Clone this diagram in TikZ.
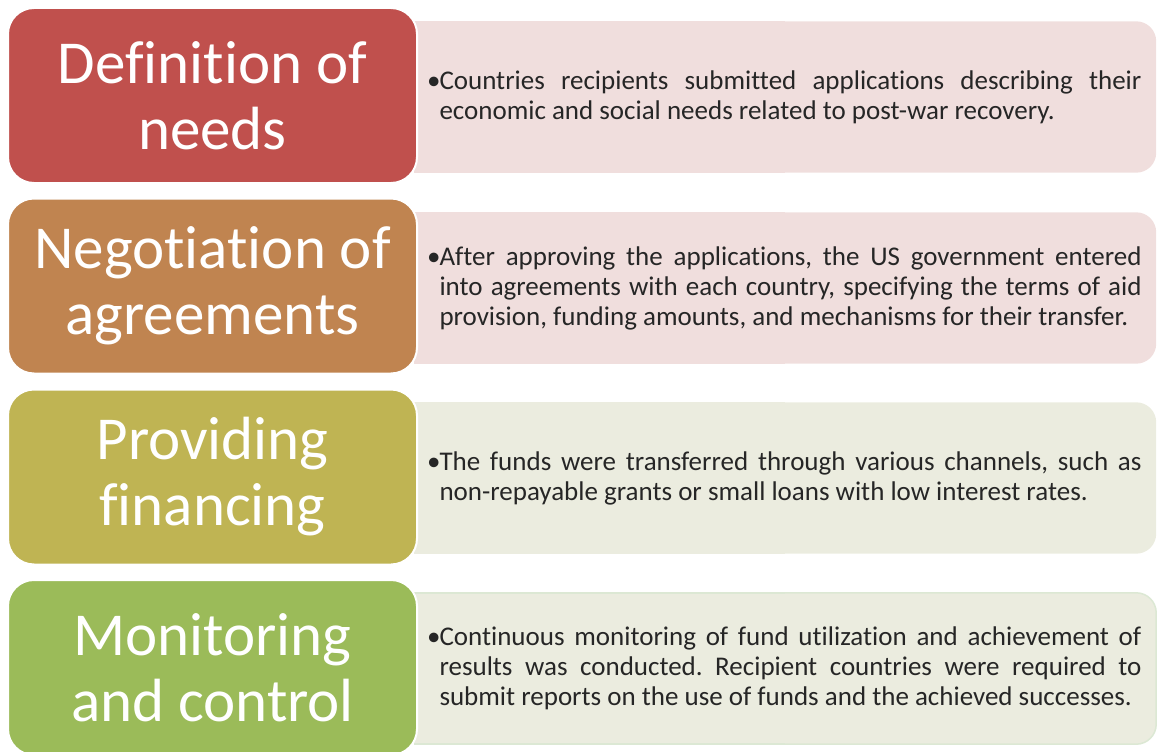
\documentclass[tikz,border=0pt]{standalone}
\usepackage{fontspec}
\setmainfont{Carlito}[RawFeature={-liga;-clig;-calt;-dlig}]
\usetikzlibrary{backgrounds}

\definecolor{needsred}{HTML}{C0504D}
\definecolor{talksbrown}{HTML}{C08450}
\definecolor{fundolive}{HTML}{BFB453}
\definecolor{controlgreen}{HTML}{9BBB59}
\definecolor{pinkpanel}{HTML}{F0DEDD}
\definecolor{creampanel}{HTML}{EBECDF}
\definecolor{panelline}{HTML}{DCE8D4}
\definecolor{infotext}{HTML}{262626}

\frenchspacing
\newcommand{\bulletitem}[1]{\noindent\hangindent=11pt\hangafter=1\makebox[11pt][l]{\hspace{-1.5pt}\textbullet}#1\par}

\begin{document}
\begin{tikzpicture}[x=1pt,y=-1pt,
	stage/.style={rounded corners=26pt, draw=white, line width=2pt, minimum width=409pt, minimum height=175pt,
		text=white, align=center, font=\fontsize{61}{66}\selectfont},
	info/.style={minimum width=742pt, minimum height=151pt, text width=713pt, inner sep=0pt,
		align=justify, text=infotext, font=\fontsize{27}{30}\selectfont},
	panel/.style={fill=#1, rounded corners=20pt}
]

	\useasboundingbox (0,0) rectangle (1157,752);

	% text panels on the right
	\node[info] (needs text) at (785,97) {\bulletitem{Countries recipients submitted applications describing their\linebreak economic and social needs related to post-war recovery.}};
	\node[info] (talks text) at (785,288) {\bulletitem{After approving the applications, the US government entered\linebreak into agreements with each country, specifying the terms of aid\linebreak provision, funding amounts, and mechanisms for their transfer.}};
	\node[info] (fund text) at (785,478) {\bulletitem{The funds were transferred through various channels, such as\linebreak non-repayable grants or small loans with low interest rates.}};
	\node[info] (control text) at (785,668.5) {\bulletitem{Continuous monitoring of fund utilization and achievement of\linebreak results was conducted. Recipient countries were required to\linebreak submit reports on the use of funds and the achieved successes.}};

	\begin{scope}[on background layer]
		\fill[panel=pinkpanel] (needs text.north west) rectangle (needs text.south east);
		\fill[pinkpanel] (needs text.north west) rectangle (needs text.south);
		\fill[panel=pinkpanel] (talks text.north west) rectangle (talks text.south east);
		\fill[pinkpanel] (talks text.north west) rectangle (talks text.south);
		\fill[panel=creampanel] (fund text.north west) rectangle (fund text.south east);
		\fill[creampanel] (fund text.north west) rectangle (fund text.south);
		\draw[panel=creampanel, draw=panelline, line width=1.5pt] (control text.north west) rectangle (control text.south east);
		\fill[creampanel] ([yshift=-1pt]control text.north west) rectangle ([yshift=1pt]control text.south);
		\draw[panelline, line width=1.5pt] (control text.north west) -- (control text.north) (control text.south west) -- (control text.south);
	\end{scope}

	% stage boxes on the left
	\node[stage, fill=needsred] (needs) at (212.5,95.5) {Definition of\\needs};
	\node[stage, fill=talksbrown] (talks) at (212.5,286) {Negotiation of\\agreements};
	\node[stage, fill=fundolive] (fund) at (212.5,477) {Providing\\financing};
	\node[stage, fill=controlgreen] (control) at (212.5,667.5) {Monitoring\\and control};

\end{tikzpicture}
\end{document}
